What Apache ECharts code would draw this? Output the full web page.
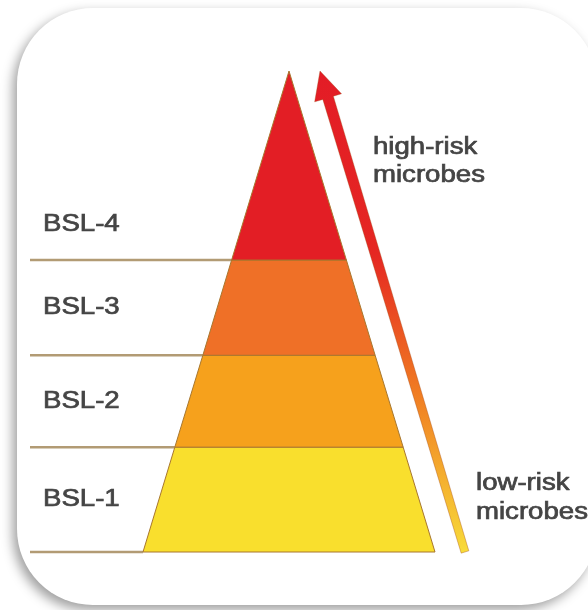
<!DOCTYPE html>
<html>
<head>
<meta charset="utf-8">
<style>
  html, body { margin: 0; padding: 0; background: #fff; }
  #chart { width: 588px; height: 610px; }
</style>
<script src="https://cdn.jsdelivr.net/npm/echarts@6/dist/echarts.min.js"></script>
</head>
<body>
<div id="chart"></div>
<script>
// biosafety levels, bottom to top
const levels = ['BSL-1', 'BSL-2', 'BSL-3', 'BSL-4'];
// width of each band's lower edge, % of pyramid base
const bandWidths = [100, 78.2, 59.0, 39.3];
// height of each band, % of pyramid height
const bandHeights = [21.8, 19.1, 19.8, 39.3];
const bandColors = ['#f9df2d', '#f6a11c', '#ef7027', '#e31e25'];
const highRiskText = ['high-risk', 'microbes'];
const lowRiskText = ['low-risk', 'microbes'];

const chart = echarts.init(document.getElementById('chart'), null, { renderer: 'canvas' });

// pyramid box
const pyr = { left: 143, top: 71, width: 292, height: 481 };
const cx = pyr.left + pyr.width / 2;
const textColor = '#444444';
const font = '23px "Liberation Sans", Arial, sans-serif';

function bandBottoms() {
  const out = [];
  let y = pyr.top + pyr.height;
  for (let i = 0; i < levels.length; i++) {
    out.push(y);
    y -= pyr.height * bandHeights[i] / 100;
  }
  return out;
}

function textEl(str, x, y) {
  return {
    type: 'text',
    x: x,
    y: y,
    scaleX: 1.2,
    z: 20,
    style: {
      text: str,
      x: 0,
      y: 0,
      font: font,
      fill: textColor,
      stroke: textColor,
      lineWidth: 0.7,
      verticalAlign: 'middle'
    }
  };
}

const graphics = [];

// card
graphics.push({
  type: 'rect',
  z: 0,
  shape: { x: 17, y: 8, width: 580, height: 597, r: 76 },
  style: {
    fill: '#ffffff',
    shadowBlur: 12,
    shadowColor: 'rgba(0,0,0,0.38)',
    shadowOffsetX: -4,
    shadowOffsetY: 5
  }
});

// level lines and labels
const bottoms = bandBottoms();
bottoms.forEach(function (y, i) {
  const edge = cx - pyr.width * bandWidths[i] / 200;
  graphics.push({
    type: 'line',
    z: 5,
    shape: { x1: 30, y1: y, x2: edge, y2: y },
    style: { stroke: '#b29b74', lineWidth: 2.5 }
  });
  const top = Math.max(y - pyr.height * bandHeights[i] / 100, 190);
  graphics.push(textEl(levels[i], 43, (y + top) / 2));
});

// risk arrow
const tip = [320, 71];
const base = [465, 552];
const dx = tip[0] - base[0], dy = tip[1] - base[1];
const len = Math.sqrt(dx * dx + dy * dy);
const ux = dx / len, uy = dy / len;
const nx = -uy, ny = ux;
const headLen = 28, headHalf = 14, wBottom = 4, wTop = 5.5;
const hb = [tip[0] - ux * headLen, tip[1] - uy * headLen];
graphics.push({
  type: 'polygon',
  z: 10,
  shape: {
    points: [
      [base[0] + nx * wBottom, base[1] + ny * wBottom],
      [hb[0] + nx * wTop, hb[1] + ny * wTop],
      [hb[0] + nx * headHalf, hb[1] + ny * headHalf],
      tip,
      [hb[0] - nx * headHalf, hb[1] - ny * headHalf],
      [hb[0] - nx * wTop, hb[1] - ny * wTop],
      [base[0] - nx * wBottom, base[1] - ny * wBottom]
    ]
  },
  style: {
    fill: new echarts.graphic.LinearGradient(0, 0, 0, 1, [
      { offset: 0, color: '#e31c26' },
      { offset: 0.38, color: '#e52722' },
      { offset: 0.66, color: '#f07a22' },
      { offset: 1, color: '#f8dc3a' }
    ]),
    stroke: 'rgba(160,70,20,0.45)',
    lineWidth: 0.8
  }
});

highRiskText.forEach(function (s, i) { graphics.push(textEl(s, 373, 148 + i * 28)); });
lowRiskText.forEach(function (s, i) { graphics.push(textEl(s, 476, 484 + i * 29)); });

chart.setOption({
  animation: false,
  backgroundColor: '#ffffff',
  graphic: { elements: graphics },
  series: [
    {
      type: 'funnel',
      sort: 'ascending',
      left: pyr.left,
      top: pyr.top,
      width: pyr.width,
      height: pyr.height,
      min: 0,
      max: 100,
      minSize: '0%',
      maxSize: '100%',
      gap: 0,
      z: 8,
      label: { show: false },
      labelLine: { show: false },
      itemStyle: { borderColor: '#a8772e', borderWidth: 1 },
      emphasis: { disabled: true },
      data: levels.map(function (name, i) {
        return {
          name: name,
          value: bandWidths[i],
          itemStyle: { color: bandColors[i], height: bandHeights[i] + '%' }
        };
      })
    }
  ]
});
</script>
</body>
</html>
